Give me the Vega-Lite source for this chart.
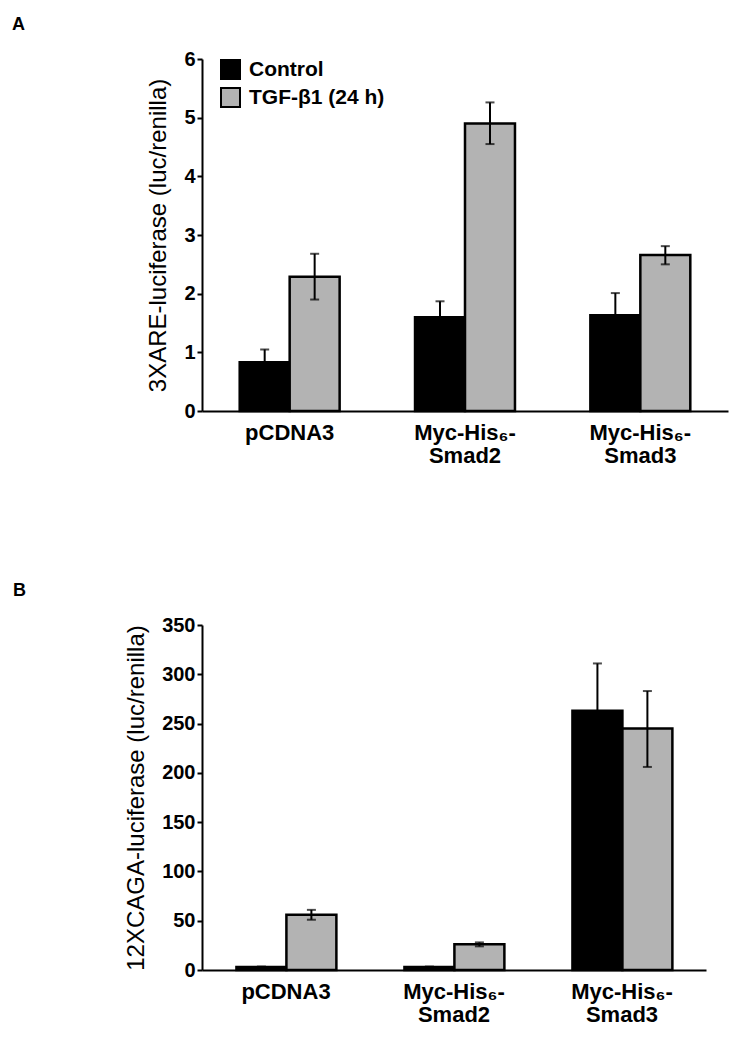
{
  "$schema": "https://vega.github.io/schema/vega-lite/v6.json",
  "background": "white",
  "padding": {"left": 12, "top": 16, "right": 5, "bottom": 5},
  "spacing": 116,
  "config": {
    "font": "Liberation Sans",
    "view": {"stroke": null},
    "axis": {
      "domainColor": "black",
      "domainWidth": 2,
      "tickColor": "black",
      "tickWidth": 2,
      "grid": false,
      "labelColor": "black",
      "titleColor": "black",
      "labelFont": "Liberation Sans",
      "titleFont": "Liberation Sans"
    },
    "legend": {
      "orient": "none",
      "legendX": 18,
      "symbolType": "square",
      "symbolSize": 361,
      "symbolStrokeColor": "black",
      "symbolStrokeWidth": 2,
      "symbolOpacity": 1,
      "labelFontSize": 21,
      "labelFontWeight": "bold",
      "labelColor": "black",
      "labelFont": "Liberation Sans",
      "labelOffset": 8,
      "rowPadding": 1,
      "title": null
    }
  },
  "vconcat": [
    {
      "title": {"text": "A", "anchor": "start", "frame": "group", "dx": -190, "fontSize": 18, "fontWeight": "bold", "offset": 15, "color": "black"},
      "width": 526,
      "height": 352,
      "data": {"values": [
        {"construct": "pCDNA3", "treatment": "Control", "value": 0.83, "lo": 0.61, "hi": 1.05},
        {"construct": "pCDNA3", "treatment": "TGF-β1 (24 h)", "value": 2.29, "lo": 1.90, "hi": 2.68},
        {"construct": "Myc-His₆-Smad2", "treatment": "Control", "value": 1.60, "lo": 1.33, "hi": 1.87},
        {"construct": "Myc-His₆-Smad2", "treatment": "TGF-β1 (24 h)", "value": 4.90, "lo": 4.55, "hi": 5.26},
        {"construct": "Myc-His₆-Smad3", "treatment": "Control", "value": 1.63, "lo": 1.25, "hi": 2.01},
        {"construct": "Myc-His₆-Smad3", "treatment": "TGF-β1 (24 h)", "value": 2.66, "lo": 2.50, "hi": 2.81}
      ]},
      "encoding": {
        "x": {
          "field": "construct", "type": "nominal", "sort": null,
          "scale": {"paddingInner": 0.43, "paddingOuter": 0.215},
          "axis": {"title": null, "labelAngle": 0, "labelFontSize": 22, "labelFontWeight": "bold", "labelPadding": 11, "ticks": false, "labelLineHeight": 23, "labelBaseline": "top",
            "labelExpr": "datum.value == 'pCDNA3' ? 'pCDNA3' : [slice(datum.value, 0, 9), slice(datum.value, 9)]"}
        },
        "xOffset": {"field": "treatment", "type": "nominal", "sort": null, "scale": {"paddingInner": 0, "paddingOuter": 0}}
      },
      "layer": [
        {
          "mark": {"type": "bar", "stroke": "black", "strokeWidth": 2.5},
          "encoding": {
            "y": {"field": "value", "type": "quantitative", "title": "3XARE-luciferase (luc/renilla)",
              "scale": {"domain": [0, 6]},
              "axis": {"titleFontSize": 24, "titleFontWeight": "normal", "titlePadding": 13, "labelFontSize": 20, "labelFontWeight": "bold", "tickSize": 5, "labelPadding": 2, "values": [0, 1, 2, 3, 4, 5, 6], "format": "d", "labelFlush": false}},
            "fill": {"field": "treatment", "type": "nominal", "sort": null,
              "scale": {"domain": ["Control", "TGF-β1 (24 h)"], "range": ["black", "#b3b3b3"]},
              "legend": {"legendY": 0}}
          }
        },
        {
          "mark": {"type": "rule", "color": "black", "strokeWidth": 2},
          "encoding": {"y": {"field": "lo", "type": "quantitative", "title": "3XARE-luciferase (luc/renilla)"}, "y2": {"field": "hi"}}
        },
        {
          "mark": {"type": "tick", "color": "black", "thickness": 2, "size": 9, "orient": "horizontal"},
          "encoding": {"y": {"field": "hi", "type": "quantitative", "title": "3XARE-luciferase (luc/renilla)"}}
        },
        {
          "mark": {"type": "tick", "color": "black", "thickness": 2, "size": 9, "orient": "horizontal"},
          "encoding": {"y": {"field": "lo", "type": "quantitative", "title": "3XARE-luciferase (luc/renilla)"}}
        }
      ]
    },
    {
      "title": {"text": "B", "anchor": "start", "frame": "group", "dx": -189, "fontSize": 18, "fontWeight": "bold", "offset": 15, "color": "black"},
      "width": 504,
      "height": 345,
      "data": {"values": [
        {"construct": "pCDNA3", "treatment": "Control", "value": 3, "lo": 2.5, "hi": 3.5},
        {"construct": "pCDNA3", "treatment": "TGF-β1 (24 h)", "value": 56, "lo": 51, "hi": 61},
        {"construct": "Myc-His₆-Smad2", "treatment": "Control", "value": 3, "lo": 2.5, "hi": 3.5},
        {"construct": "Myc-His₆-Smad2", "treatment": "TGF-β1 (24 h)", "value": 26, "lo": 24, "hi": 28},
        {"construct": "Myc-His₆-Smad3", "treatment": "Control", "value": 263, "lo": 215, "hi": 311},
        {"construct": "Myc-His₆-Smad3", "treatment": "TGF-β1 (24 h)", "value": 245, "lo": 206, "hi": 283}
      ]},
      "encoding": {
        "x": {
          "field": "construct", "type": "nominal", "sort": null,
          "scale": {"paddingInner": 0.41, "paddingOuter": 0.205},
          "axis": {"title": null, "labelAngle": 0, "labelFontSize": 22, "labelFontWeight": "bold", "labelPadding": 11, "ticks": false, "labelLineHeight": 23, "labelBaseline": "top",
            "labelExpr": "datum.value == 'pCDNA3' ? 'pCDNA3' : [slice(datum.value, 0, 9), slice(datum.value, 9)]"}
        },
        "xOffset": {"field": "treatment", "type": "nominal", "sort": null, "scale": {"paddingInner": 0, "paddingOuter": 0}}
      },
      "layer": [
        {
          "mark": {"type": "bar", "stroke": "black", "strokeWidth": 2.5},
          "encoding": {
            "y": {"field": "value", "type": "quantitative", "title": "12XCAGA-luciferase (luc/renilla)",
              "scale": {"domain": [0, 350]},
              "axis": {"titleFontSize": 24, "titleFontWeight": "normal", "titlePadding": 13, "labelFontSize": 20, "labelFontWeight": "bold", "tickSize": 5, "labelPadding": 2, "values": [0, 50, 100, 150, 200, 250, 300, 350], "labelFlush": false}},
            "fill": {"field": "treatment", "type": "nominal", "sort": null,
              "scale": {"domain": ["Control", "TGF-β1 (24 h)"], "range": ["black", "#b3b3b3"]},
              "legend": {"legendY": -2}}
          }
        },
        {
          "mark": {"type": "rule", "color": "black", "strokeWidth": 2},
          "encoding": {"y": {"field": "lo", "type": "quantitative", "title": "12XCAGA-luciferase (luc/renilla)"}, "y2": {"field": "hi"}}
        },
        {
          "mark": {"type": "tick", "color": "black", "thickness": 2, "size": 9, "orient": "horizontal"},
          "encoding": {"y": {"field": "hi", "type": "quantitative", "title": "12XCAGA-luciferase (luc/renilla)"}}
        },
        {
          "mark": {"type": "tick", "color": "black", "thickness": 2, "size": 9, "orient": "horizontal"},
          "encoding": {"y": {"field": "lo", "type": "quantitative", "title": "12XCAGA-luciferase (luc/renilla)"}}
        }
      ]
    }
  ]
}
